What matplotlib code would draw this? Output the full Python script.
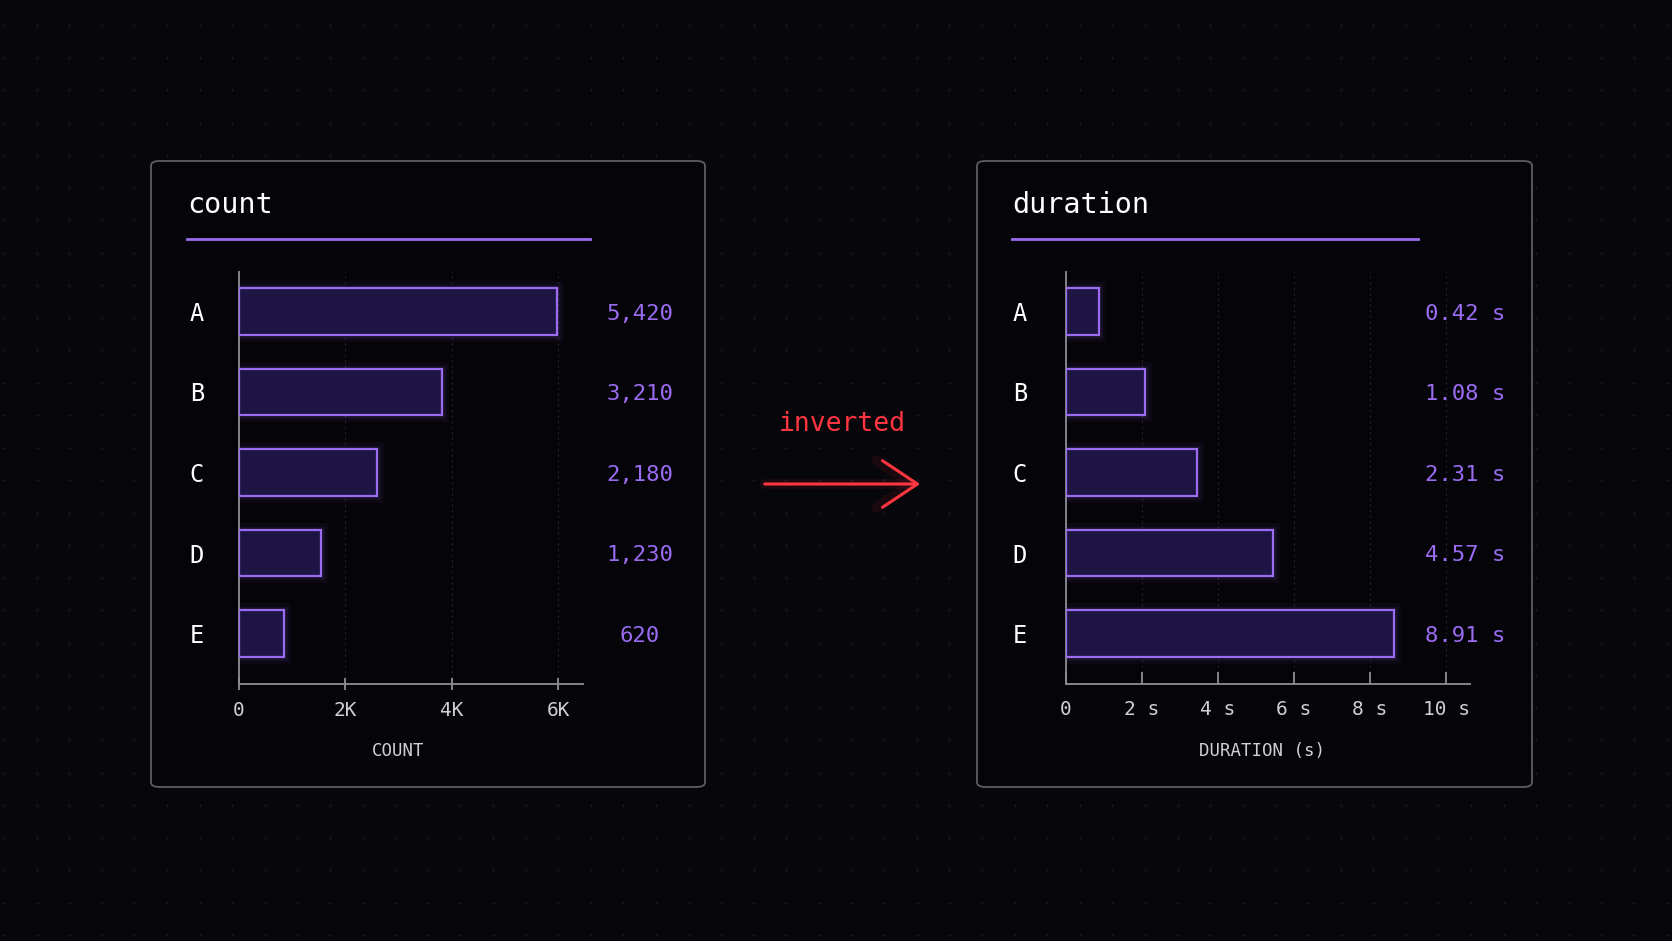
import matplotlib
matplotlib.use("Agg")
from matplotlib import pyplot as plt
from matplotlib.patches import FancyBboxPatch, FancyArrowPatch
from matplotlib.lines import Line2D
import matplotlib.transforms as mtransforms
import numpy as np

# datos
categorias = ["A", "B", "C", "D", "E"]
count_etiquetas = [5420, 3210, 2180, 1230, 620]
count_barras = [5980, 3810, 2600, 1550, 855]      # largo dibujado de cada barra
duracion_etiquetas = [0.42, 1.08, 2.31, 4.57, 8.91]
duracion_barras = [0.88, 2.08, 3.46, 5.45, 8.63]  # largo dibujado de cada barra

count_ticks = [0, 2000, 4000, 6000]
count_tick_labels = ["0", "2K", "4K", "6K"]
duracion_ticks = [0, 2, 4, 6, 8, 10]
duracion_tick_labels = ["0", "2 s", "4 s", "6 s", "8 s", "10 s"]

W, H = 1672, 941
FONDO = "#07060b"
MORADO = "#9b6cf2"
RELLENO = "#1f1545"
GRIS = "#8e8e94"
TEXTO = "#d0d0d4"
ROJO = "#ff3540"
MONO = ["DejaVu Sans Mono"]

plt.rcParams["font.family"] = MONO

fig = plt.figure(figsize=(W / 100, H / 100), dpi=100, facecolor=FONDO)

# fondo con rejilla de puntos
bg = fig.add_axes([0, 0, 1, 1], zorder=-10)
bg.set_xlim(0, W)
bg.set_ylim(H, 0)
bg.axis("off")
gx, gy = np.meshgrid(np.arange(4, W, 32.6), np.arange(25, H, 32.5))
bg.scatter(gx.ravel(), gy.ravel(), marker="+", s=10, lw=0.6, color="#18171f")


def px(x, y):
    return x / W, 1 - y / H


def tarjeta(x0, x1, y0, y1):
    p = FancyBboxPatch(px(x0, y1), (x1 - x0) / W, (y1 - y0) / H,
                       boxstyle="round,pad=0,rounding_size=0.005",
                       transform=fig.transFigure, facecolor="#050409",
                       edgecolor="#5e5e62", lw=1.3, zorder=-5)
    fig.patches.append(p)


def panel(left, right, titulo, tx, lx1, barras, etiquetas, fmt, ticks, tick_labels,
          xmax, eje, caja, vx, tdir, tpad, ypad):
    tarjeta(*caja)
    fig.text(*px(tx, 205), titulo, color="white", fontsize=20.5, va="center", ha="left")
    fig.add_artist(Line2D([tx / W, lx1 / W], [1 - 239 / H] * 2, color=MORADO, lw=2,
                          transform=fig.transFigure))

    x0f, y1f = px(left, 683.5)
    ax = fig.add_axes([x0f, y1f, (right - left) / W, (683.5 - 272) / H])
    ax.set_facecolor("none")
    y = np.arange(len(categorias))
    # brillo
    for lw, a in [(10, 0.05), (5, 0.08)]:
        ax.barh(y, barras, height=0.58, facecolor="none", edgecolor=MORADO,
                lw=lw, alpha=a, zorder=2)
    ax.barh(y, barras, height=0.58, facecolor=RELLENO, edgecolor=MORADO, lw=1.6, zorder=3)
    ax.set_xlim(0, xmax)
    ax.set_ylim(4.62, -0.49)
    ax.set_yticks(y)
    ax.set_yticklabels(categorias, color="white", fontsize=17)
    ax.tick_params(axis="y", length=0, pad=ypad)
    for s in ["top", "right"]:
        ax.spines[s].set_visible(False)
    for s in ["left", "bottom"]:
        ax.spines[s].set_color(GRIS)
        ax.spines[s].set_linewidth(1.3)
    ax.set_xticks(ticks)
    ax.set_xticklabels(tick_labels, color=TEXTO, fontsize=14)
    ax.tick_params(axis="x", direction=tdir, length=9, width=1.3, color=GRIS, pad=tpad)
    for t in ticks[1:]:
        ax.axvline(t, color="#23232b", lw=0.8, ls=(0, (2, 3)), zorder=1)

    tr = mtransforms.blended_transform_factory(fig.transFigure, ax.transData)
    for yi, v in zip(y, etiquetas):
        ax.text(vx / W, yi + 0.03, fmt(v), transform=tr, color=MORADO, fontsize=16,
                ha="center", va="center")
    fig.text(*px(eje[0], 751), eje[1], color=TEXTO, fontsize=12.5, ha="center", va="center")
    return ax


panel(238.8, 583, "count", 187, 590, count_barras, count_etiquetas,
      lambda v: f"{v:,}", count_ticks, count_tick_labels, 6460,
      (398, "COUNT"), (151, 705, 161, 787), 640, "inout", 8, 25)

panel(1066, 1470, "duration", 1012, 1418, duracion_barras, duracion_etiquetas,
      lambda v: f"{v:.2f} s", duracion_ticks, duracion_tick_labels, 10.63,
      (1262, "DURATION (s)"), (977, 1532, 161, 787), 1465, "in", 12, 28)

# flecha roja
fig.text(*px(842, 424), "inverted", color=ROJO, fontsize=19, ha="center", va="center")
for lw, a in [(7, 0.08), (2.2, 1.0)]:
    flecha = FancyArrowPatch(px(762, 484), px(923, 484), transform=fig.transFigure,
                             arrowstyle="->,head_length=1.8,head_width=1.2",
                             color=ROJO, lw=lw, alpha=a, mutation_scale=14)
    fig.patches.append(flecha)

fig.savefig("out.png", dpi=100, facecolor=FONDO)
